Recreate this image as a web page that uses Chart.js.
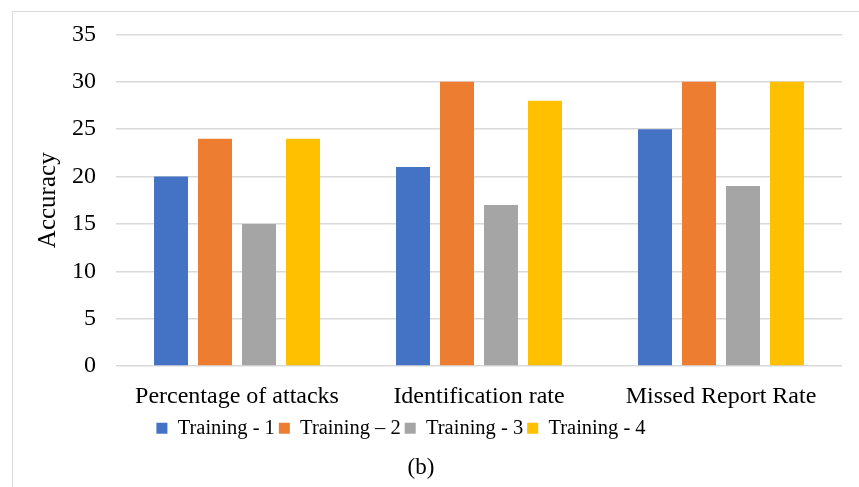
<!DOCTYPE html>
<html>
<head>
<meta charset="utf-8">
<script src="https://cdn.jsdelivr.net/npm/chart.js@4/dist/chart.umd.min.js"></script>
<style>
  html, body { margin: 0; padding: 0; background: #ffffff; overflow: hidden; }
  #frame { position: absolute; left: 12px; top: 11px; width: 860px; height: 490px;
           border: 1.5px solid #d9d9d9; box-sizing: border-box; }
  #wrap { position: absolute; left: 0; top: 0; width: 859px; height: 487px; }
</style>
</head>
<body>
<div id="frame"></div>
<div id="wrap"><canvas id="chart" width="859" height="487"></canvas></div>
<script>
const categories = ['Percentage of attacks', 'Identification rate', 'Missed Report Rate'];
const seriesNames = ['Training - 1', 'Training \u2013 2', 'Training - 3', 'Training - 4'];
const training1 = [20, 21, 25];
const training2 = [24, 30, 30];
const training3 = [15, 17, 19];
const training4 = [24, 28, 30];
const seriesColors = ['#4472C4', '#ED7D31', '#A5A5A5', '#FFC000'];
const yTicks = [0, 5, 10, 15, 20, 25, 30, 35];

const serif = '"Liberation Serif", "Times New Roman", serif';
const values = [training1, training2, training3, training4];

// nudge the legend row a little to the left of the canvas centre
const legendShift = {
  id: 'legendShift',
  afterLayout(chart) {
    const lg = chart.legend;
    if (lg) { lg.left -= 20; lg.right -= 20; }
  }
};

new Chart(document.getElementById('chart'), {
  type: 'bar',
  data: {
    labels: categories,
    datasets: values.map((v, i) => ({
      label: seriesNames[i],
      data: v,
      backgroundColor: seriesColors[i],
      borderWidth: 0,
      categoryPercentage: 0.727,
      barPercentage: 0.773
    }))
  },
  plugins: [legendShift],
  options: {
    responsive: false,
    animation: false,
    layout: { padding: { top: 26, right: 17, left: 0, bottom: 5 } },
    plugins: {
      tooltip: { enabled: false },
      legend: {
        position: 'bottom',
        labels: {
          boxWidth: 11, boxHeight: 11, padding: 4,
          color: '#000', font: { family: serif, size: 20.5 }
        }
      },
      title: {
        display: true, position: 'bottom', text: '(b)',
        color: '#000', font: { family: serif, size: 23, weight: 'normal' },
        padding: { top: 6, bottom: 0 }
      }
    },
    scales: {
      x: {
        grid: { display: false, drawTicks: false },
        border: { display: false },
        afterFit: s => { s.height -= 13; },
        ticks: { color: '#000', font: { family: serif, size: 24 }, padding: 16 }
      },
      y: {
        min: 0, max: 35,
        afterBuildTicks: s => { s.ticks = yTicks.map(v => ({ value: v })); },
        afterFit: s => { s.width = 116; },
        grid: { color: '#d9d9d9', lineWidth: 1.5, drawTicks: false },
        border: { display: false },
        ticks: { color: '#000', font: { family: serif, size: 24 }, padding: 20 },
        title: {
          display: true, text: 'Accuracy', color: '#000',
          font: { family: serif, size: 25 }, padding: { top: 33, bottom: 0 }
        }
      }
    }
  }
});
</script>
</body>
</html>
